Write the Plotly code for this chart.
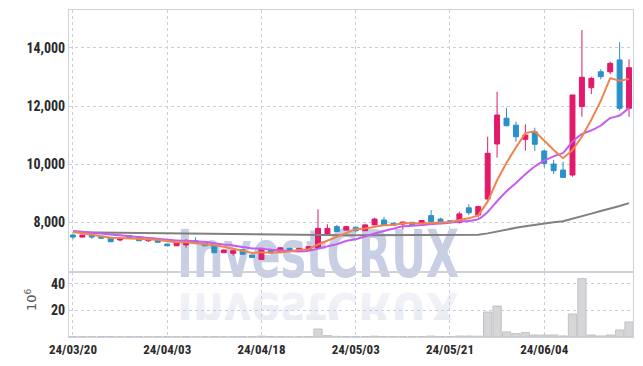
import plotly.graph_objects as go
import base64

dates = [
    "2024-03-20", "2024-03-21", "2024-03-22", "2024-03-25", "2024-03-26", "2024-03-27", "2024-03-28", "2024-03-29",
    "2024-04-01", "2024-04-02", "2024-04-03", "2024-04-04", "2024-04-05", "2024-04-08", "2024-04-09", "2024-04-11",
    "2024-04-12", "2024-04-15", "2024-04-16", "2024-04-17", "2024-04-18", "2024-04-19", "2024-04-22", "2024-04-23",
    "2024-04-24", "2024-04-25", "2024-04-26", "2024-04-29", "2024-04-30", "2024-05-02", "2024-05-03", "2024-05-07",
    "2024-05-08", "2024-05-09", "2024-05-10", "2024-05-13", "2024-05-14", "2024-05-16", "2024-05-17", "2024-05-20",
    "2024-05-21", "2024-05-22", "2024-05-23", "2024-05-24", "2024-05-27", "2024-05-28", "2024-05-29", "2024-05-30",
    "2024-05-31", "2024-06-03", "2024-06-04", "2024-06-05", "2024-06-07", "2024-06-10", "2024-06-11", "2024-06-12",
    "2024-06-13", "2024-06-14", "2024-06-17", "2024-06-18",
]

open_ = [7550, 7480, 7550, 7510, 7470, 7380, 7530, 7480, 7355, 7380,
         7240, 7180, 7210, 7355, 7265, 7180, 6940, 6920, 7045, 6860,
         6710, 7050, 6940, 7090, 7000, 7035, 7100, 7590, 7840, 7720,
         7820, 7700, 7900, 8070, 7960, 7930, 7990, 7950, 8220, 8100,
         8040, 7980, 8490, 8240, 8790, 10690, 11580, 11340, 10850, 11110,
         10450, 10000, 9790, 9620, 11980, 12630, 13180, 13180, 13590, 11920]
high = [7580, 7560, 7570, 7520, 7480, 7450, 7550, 7490, 7410, 7390,
        7250, 7300, 7410, 7470, 7280, 7190, 7050, 7020, 7060, 6870,
        7100, 7070, 7130, 7110, 7100, 7160, 8440, 7920, 7900, 7870,
        7830, 7940, 8150, 8180, 7970, 8010, 8000, 8060, 8410, 8150,
        8060, 8355, 8610, 8560, 10940, 12490, 11940, 11460, 11370, 11250,
        10480, 10140, 10080, 12380, 14620, 13010, 13270, 13530, 14200, 13610]
low = [7410, 7470, 7420, 7410, 7300, 7335, 7450, 7340, 7310, 7290,
       7170, 7170, 7115, 7250, 7170, 6930, 6930, 6840, 6880, 6760,
       6700, 6900, 6930, 6990, 6990, 7020, 7090, 7560, 7660, 7710,
       7640, 7690, 7890, 7890, 7870, 7750, 7880, 7940, 8000, 7920,
       7990, 7950, 8240, 8160, 8720, 10220, 11300, 10770, 10460, 10450,
       9880, 9660, 9520, 9560, 11630, 12410, 12920, 13100, 11840, 11630]
close = [7480, 7550, 7480, 7440, 7320, 7440, 7460, 7355, 7400, 7300,
         7180, 7290, 7320, 7265, 7180, 6940, 7035, 7010, 6890, 6780,
         7090, 6930, 7110, 7000, 7090, 7150, 7780, 7780, 7670, 7840,
         7700, 7900, 8100, 7900, 7880, 8000, 7900, 8050, 8010, 8010,
         8010, 8280, 8320, 8530, 10370, 11690, 11320, 10940, 11000, 10680,
         10020, 9770, 9540, 12380, 12990, 12950, 13010, 13470, 11920, 13320]

ma5 = [7665, 7610, 7560, 7510, 7454, 7446, 7428, 7403, 7395, 7391,
       7339, 7305, 7298, 7271, 7247, 7199, 7148, 7086, 7011, 6931,
       6961, 6940, 6960, 6982, 7044, 7056, 7226, 7360, 7494, 7644,
       7754, 7778, 7842, 7888, 7896, 7956, 7956, 7946, 7968, 7994,
       7996, 8072, 8126, 8230, 8702, 9438, 10046, 10570, 11064, 11126,
       10792, 10482, 10202, 10478, 10940, 11526, 12174, 12960, 12868, 12934]
ma10 = [7690, 7660, 7630, 7600, 7570, 7540, 7510, 7480, 7450, 7422,
        7392, 7366, 7350, 7333, 7319, 7269, 7226, 7192, 7141, 7089,
        7080, 7044, 7023, 6996, 6987, 7008, 7083, 7160, 7238, 7344,
        7405, 7502, 7601, 7691, 7770, 7855, 7867, 7894, 7928, 7945,
        7976, 8014, 8036, 8099, 8348, 8717, 9059, 9348, 9647, 9914,
        10115, 10264, 10386, 10771, 11033, 11159, 11328, 11581, 11672, 11936]
ma60 = [7645, 7641, 7637, 7633, 7629, 7625, 7620, 7615, 7610, 7605,
        7600, 7595, 7590, 7585, 7580, 7575, 7571, 7567, 7563, 7559,
        7555, 7552, 7549, 7547, 7546, 7545, 7545, 7545, 7545, 7545,
        7545, 7546, 7547, 7548, 7549, 7550, 7551, 7552, 7553, 7554,
        7555, 7556, 7558, 7560, 7608, 7678, 7742, 7799, 7857, 7910,
        7952, 7990, 8024, 8105, 8197, 8288, 8380, 8480, 8554, 8651]

volume = [0.3, 0.2, 0.2, 0.3, 0.4, 0.2, 0.2, 0.3, 0.2, 0.2,
          0.3, 0.2, 0.3, 0.2, 0.2, 0.4, 0.2, 0.2, 0.3, 0.3,
          0.6, 0.3, 0.3, 0.2, 0.2, 0.3, 6.0, 1.0, 0.5, 0.4,
          0.3, 0.4, 0.6, 0.4, 0.3, 0.3, 0.3, 0.3, 0.7, 0.3,
          0.3, 0.7, 0.7, 0.6, 18.8, 23.3, 3.8, 2.5, 3.3, 1.5,
          1.5, 1.5, 0.8, 17.3, 44.0, 1.5, 0.8, 1.5, 5.3, 11.3]

tick_dates = ["2024-03-20", "2024-04-03", "2024-04-18", "2024-05-03", "2024-05-21", "2024-06-04"]
tick_text = ["24/03/20", "24/04/03", "24/04/18", "24/05/03", "24/05/21", "24/06/04"]
price_ticks = [8000, 10000, 12000, 14000]
vol_ticks = [20, 40]

UP = "#e3196a"
DOWN = "#2c90c8"
GRID = "#c9cde0"
AXIS = "#d0d2da"
FAM = "Roboto Condensed, Liberation Sans Narrow, Roboto"
YFONT = dict(family=FAM, size=14, color="#2a2a2a", weight="bold")
XFONT = dict(family=FAM, size=13, color="#2a2a2a", weight="bold")

fig = go.Figure()

fig.add_trace(go.Candlestick(
    x=dates, open=open_, high=high, low=low, close=close,
    increasing=dict(line=dict(color=UP, width=1), fillcolor=UP),
    decreasing=dict(line=dict(color=DOWN, width=1), fillcolor=DOWN),
    whiskerwidth=0, xaxis="x", yaxis="y", showlegend=False, hoverinfo="skip",
))
fig.add_trace(go.Scatter(x=dates, y=ma60, mode="lines", line=dict(color="#808080", width=2),
                         xaxis="x", yaxis="y", showlegend=False, hoverinfo="skip"))
fig.add_trace(go.Scatter(x=dates, y=ma10, mode="lines", line=dict(color="#c45cf0", width=2, shape="spline", smoothing=0.6),
                         xaxis="x", yaxis="y", showlegend=False, hoverinfo="skip"))
fig.add_trace(go.Scatter(x=dates, y=ma5, mode="lines", line=dict(color="#f0844e", width=2),
                         xaxis="x", yaxis="y", showlegend=False, hoverinfo="skip"))
fig.add_trace(go.Bar(x=dates, y=volume, marker=dict(color="#d6d6d8", line=dict(color="#c2c2c6", width=1)),
                     xaxis="x2", yaxis="y2", showlegend=False, hoverinfo="skip"))

svg = (
    '<svg xmlns="http://www.w3.org/2000/svg" width="290" height="92" viewBox="0 0 290 92" preserveAspectRatio="none">'
    '<defs><linearGradient id="g" x1="0" y1="0" x2="0" y2="1">'
    '<stop offset="0" stop-color="#e2e5f0" stop-opacity="1"/>'
    '<stop offset="1" stop-color="#eef0f6" stop-opacity="0.6"/></linearGradient></defs>'
    '<text x="0" y="49" textLength="286" lengthAdjust="spacingAndGlyphs" '
    'font-family="DejaVu Sans" font-weight="bold" font-size="66" fill="#c8cfe5">InvestCRUX</text>'
    '<g transform="translate(0,103) scale(1,-0.78)">'
    '<text x="0" y="49" textLength="286" lengthAdjust="spacingAndGlyphs" '
    'font-family="DejaVu Sans" font-weight="bold" font-size="66" fill="url(#g)">InvestCRUX</text>'
    '</g></svg>'
)
src = "data:image/svg+xml;base64," + base64.b64encode(svg.encode()).decode()

# page offset from the default body margin (8px)
OFF = 8
PL, PR, PT, PB = 69, 633, 10, 337  # plot area in page pixels
W, H = 643 - OFF, 366 - OFF
L, T = PL - OFF, PT - OFF
R, B = W - (PR - OFF), H - (PB - OFF)
pw, ph = PR - PL, PB - PT

def px(xp):
    return (xp - PL) / pw

def py(yp):
    return (PB - yp) / ph

fig.add_layout_image(dict(source=src, xref="paper", yref="paper", x=px(177), y=py(228),
                          sizex=(463 - 177) / pw, sizey=92 / ph, sizing="stretch",
                          xanchor="left", yanchor="top", layer="below"))

split = py(272)
common = dict(showline=True, linecolor=AXIS, mirror=True, ticks="", zeroline=False, automargin=False,
              showgrid=True, gridcolor=GRID, griddash="dot", gridwidth=1)
fig.update_layout(
    width=W, height=H,
    margin=dict(l=L, r=R, t=T, b=B, autoexpand=False),
    paper_bgcolor="white", plot_bgcolor="rgba(0,0,0,0)",
    bargap=0.12, boxgap=0.25,
    xaxis=dict(domain=[0, 1], anchor="y", type="category", range=[-0.42, 59.42],
               rangeslider=dict(visible=False), tickvals=tick_dates, ticktext=tick_text,
               showticklabels=False, **common),
    xaxis2=dict(domain=[0, 1], anchor="y2", type="category", range=[-0.42, 59.42], matches="x",
                tickvals=tick_dates, ticktext=tick_text, tickfont=XFONT, **common),
    yaxis=dict(domain=[split, 1], anchor="x", range=[6276, 15310], tickvals=price_ticks,
               tickformat=",d", tickfont=YFONT, **common),
    yaxis2=dict(domain=[0, split], anchor="x2", range=[0, 49], tickvals=vol_ticks, tickfont=YFONT, **common),
    annotations=[dict(text="10<sup>6</sup>", xref="paper", yref="paper", x=px(31), y=py(300),
                      xanchor="center", yanchor="middle",
                      showarrow=False, textangle=-90, font=dict(family="DejaVu Sans", size=13, color="#555"))],
)

fig.write_html("out.html")
